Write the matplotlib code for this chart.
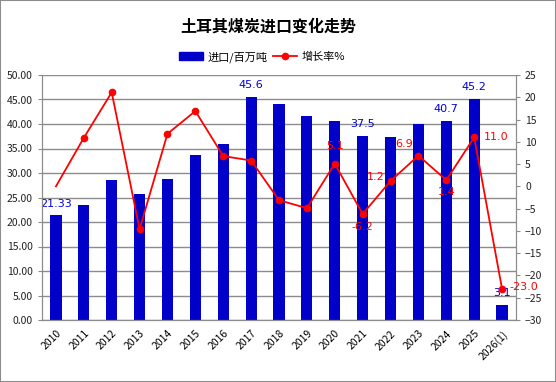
import matplotlib
matplotlib.use("Agg")
import matplotlib.pyplot as plt
from matplotlib.patches import Rectangle
from matplotlib.lines import Line2D
import numpy as np

plt.rcParams['font.family'] = ['Noto Sans CJK SC', 'DejaVu Sans']

years = ['2010', '2011', '2012', '2013', '2014', '2015', '2016', '2017', '2018',
         '2019', '2020', '2021', '2022', '2023', '2024', '2025', '2026(1)']
imports = [21.33, 23.5, 28.6, 25.7, 28.8, 33.7, 35.9, 45.6, 44.1,
           41.6, 40.6, 37.5, 37.3, 40.0, 40.7, 45.2, 3.1]
growth = [0.0, 10.9, 21.1, -9.6, 11.8, 16.9, 6.8, 5.8, -3.1,
          -4.9, 5.1, -6.2, 1.2, 6.9, 1.4, 11.0, -23.0]

bar_labels = {0: '21.33', 7: '45.6', 11: '37.5', 14: '40.7', 15: '45.2', 16: '3.1'}
line_labels = {10: ('5.1', 0, 9, 'center', 'bottom'),
               11: ('-6.2', 0, -6, 'center', 'top'),
               12: ('1.2', -4, 3, 'right', 'center'),
               13: ('6.9', -4, 5, 'right', 'bottom'),
               14: ('1.4', 0, -5, 'center', 'top'),
               15: ('11.0', 7, 0, 'left', 'center'),
               16: ('-23.0', 5, 1, 'left', 'center')}

fig = plt.figure(figsize=(5.56, 3.82), dpi=100)
fig.patches.append(Rectangle((0, 0), 1, 1, transform=fig.transFigure, fill=False,
                             edgecolor='#8c8c8c', linewidth=1.5))
ax = fig.add_axes([42/556, 1-320/382, 474/556, 245/382])
x = np.arange(len(years))
widths = [0.4]*(len(years)-1) + [0.44]
ax.bar(x, imports, width=widths, color='#0000c8', zorder=2)
ax.set_xlim(-0.5, len(years)-0.5)
ax.set_ylim(0, 50)
ax.set_yticks(np.arange(0, 50.1, 5))
ax.set_yticklabels([f'{v:.2f}' for v in np.arange(0, 50.1, 5)])
ax.grid(axis='y', color='#8c8c8c', linewidth=1, zorder=0)
ax.set_xticks(x)
ax.set_xticklabels(years, rotation=45, ha='right', rotation_mode='anchor')
ax.tick_params(axis='x', length=0, pad=6, labelsize=7.5)
ax.tick_params(axis='y', length=3, labelsize=7.5, colors='#8c8c8c', labelcolor='#222222')
for s in ['top']:
    ax.spines[s].set_visible(False)
for s in ['left', 'bottom', 'right']:
    ax.spines[s].set_color('#8c8c8c')
for i, t in bar_labels.items():
    ax.annotate(t, (x[i], imports[i]), xytext=(0, 5), textcoords='offset points',
                ha='center', va='bottom', color='#0000e0', fontsize=8, family='DejaVu Sans')

ax2 = ax.twinx()
ax2.set_ylim(-30, 25)
ax2.set_yticks(np.arange(-30, 25.1, 5))
ax2.plot(x, growth, color='#ff0000', linewidth=1.3, marker='o', markersize=4.5,
         markevery=list(range(1, len(years))), zorder=3)
ax2.tick_params(axis='y', length=3, labelsize=7.5, colors='#8c8c8c', labelcolor='#222222')
ax2.spines['top'].set_visible(False)
for s in ['left', 'bottom', 'right']:
    ax2.spines[s].set_color('#8c8c8c')
for i, (t, dx, dy, ha, va) in line_labels.items():
    ax2.annotate(t, (x[i], growth[i]), xytext=(dx, dy), textcoords='offset points',
                 ha=ha, va=va, color='#ff0000', fontsize=8, family='DejaVu Sans')

fig.text(268/556, 1-27/382, '土耳其煤炭进口变化走势', ha='center', va='center',
         fontsize=11.5, fontweight='bold')
handles = [Rectangle((0, 0), 1, 1, color='#0000c8'),
           Line2D([0], [0], color='#ff0000', linewidth=1.3, marker='o', markersize=4.5)]
fig.legend(handles, ['进口/百万吨', '增长率%'], loc='center', bbox_to_anchor=(262/556, 1-57/382),
           ncol=2, frameon=False, fontsize=8, handlelength=2.2, handletextpad=0.4,
           columnspacing=0.5)
fig.savefig('out.png', dpi=100)
